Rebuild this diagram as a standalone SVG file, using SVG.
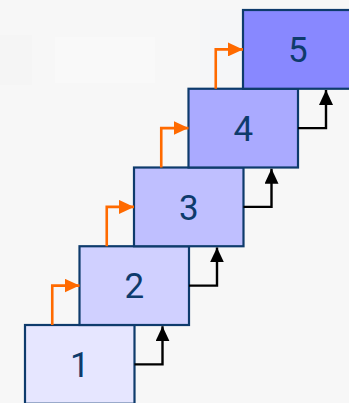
<svg xmlns="http://www.w3.org/2000/svg" width="349" height="403" viewBox="0 0 349 403">
<defs>
<style>
.box{stroke:#0e3b6c;stroke-width:2.2}
.lbl{font-family:Roboto,"Liberation Sans",sans-serif;font-size:35px;fill:#0e3b6c;text-anchor:middle}
.or{fill:none;stroke:#ff6a00;stroke-width:2.6}
.bk{fill:none;stroke:#000;stroke-width:2.4}
</style>
<marker id="ao" viewBox="0 0 15 14" refX="15" refY="7" markerWidth="15" markerHeight="14" markerUnits="userSpaceOnUse" orient="auto"><path d="M0,0 L15,7 L0,14 z" fill="#ff6a00"/></marker>
<marker id="ab" viewBox="0 0 15 14" refX="15" refY="7" markerWidth="15" markerHeight="14" markerUnits="userSpaceOnUse" orient="auto"><path d="M0,0 L15,7 L0,14 z" fill="#000"/></marker>
</defs>
<rect width="349" height="403" fill="#f7f7f7"/>
<rect x="0" y="35" width="32" height="50" fill="#f5f5f5"/>
<rect x="55" y="37" width="100" height="46" fill="#f9f9f9"/>
<rect x="200" y="10" width="45" height="70" fill="#f5f6f8"/>
<g id="n1"><rect class="box" x="25" y="325" width="109.5" height="78.75" fill="#e6e6ff"/><text class="lbl" x="79.75" y="377">1</text></g>
<g id="n2"><rect class="box" x="79.5" y="246.25" width="109.5" height="78.75" fill="#d0d0ff"/><text class="lbl" x="134.25" y="298">2</text></g>
<g id="n3"><rect class="box" x="134" y="167.5" width="109.5" height="78.75" fill="#bfbfff"/><text class="lbl" x="188.75" y="219.5">3</text></g>
<g id="n4"><rect class="box" x="188.5" y="88.75" width="109.5" height="78.75" fill="#aaaaff"/><text class="lbl" x="243.25" y="141">4</text></g>
<g id="n5"><rect class="box" x="243" y="10" width="109.5" height="78.75" fill="#8888ff"/><text class="lbl" x="297.75" y="62">5</text></g>
<g id="connectors">
<path class="or" marker-end="url(#ao)" d="M52.25,325 V285.6 H79.5"/>
<path class="or" marker-end="url(#ao)" d="M106.75,246.25 V206.9 H134"/>
<path class="or" marker-end="url(#ao)" d="M161.25,167.5 V128.1 H188.5"/>
<path class="or" marker-end="url(#ao)" d="M215.75,88.75 V49.4 H243"/>
<path class="bk" marker-end="url(#ab)" d="M134.5,364.4 H162.5 V326.2"/>
<path class="bk" marker-end="url(#ab)" d="M189,285.6 H217 V247.4"/>
<path class="bk" marker-end="url(#ab)" d="M243.5,206.9 H271.5 V168.7"/>
<path class="bk" marker-end="url(#ab)" d="M298,128.1 H326 V89.9"/>
</g>
</svg>
